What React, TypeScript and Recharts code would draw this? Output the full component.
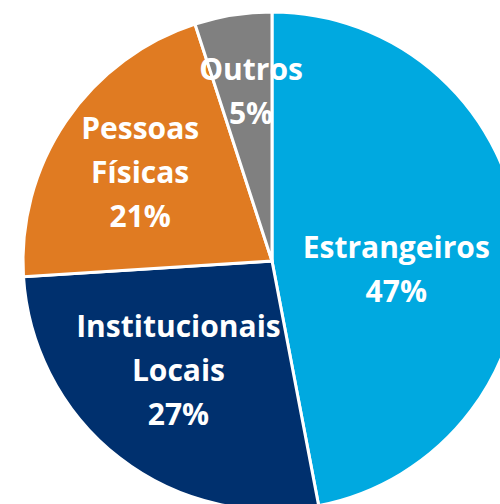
import { PieChart, Pie, Cell } from "recharts"

const categories = ["Estrangeiros", "Institucionais Locais", "Pessoas Físicas", "Outros"]
const shares = [47, 27, 21, 5]
const colors = ["#00A9E0", "#00306E", "#E07B22", "#808080"]

const data = categories.map((name, i) => ({ name, value: shares[i] }))

// label placement per slice: radius as fraction of outer radius, extra clockwise turn in degrees
const labelRadius = [0.5, 0.575, 0.64, 0.69]
const labelTurn = [9, 3, 0, 2]
const RAD = Math.PI / 180
const LINE_H = 44

const renderLabel = (props: any) => {
  const { cx, cy, midAngle, outerRadius, index, name, value } = props
  const r = outerRadius * labelRadius[index]
  const a = (midAngle - labelTurn[index]) * RAD
  const x = cx + r * Math.cos(a)
  const y = cy - r * Math.sin(a)
  const lines = [...String(name).split(" "), `${value}%`]
  const n = lines.length
  return (
    <text
      x={x}
      y={y}
      fill="#ffffff"
      textAnchor="middle"
      fontFamily="Open Sans, sans-serif"
      fontWeight="bold"
      fontSize={30}
    >
      {lines.map((t, i) => (
        <tspan key={i} x={x} y={y + (i - (n - 1) / 2) * LINE_H} dominantBaseline="central">
          {t}
        </tspan>
      ))}
    </text>
  )
}

export default function App() {
  return (
    <div style={{ position: "absolute", left: 0, top: 0, width: 500, height: 504, background: "#fff", overflow: "hidden" }}>
      <PieChart width={500} height={504} margin={{ top: 0, right: 0, bottom: 0, left: 0 }}>
        <Pie
          data={data}
          dataKey="value"
          nameKey="name"
          cx={272}
          cy={261}
          outerRadius={249}
          startAngle={90}
          endAngle={-270}
          stroke="#ffffff"
          strokeWidth={3}
          label={renderLabel}
          labelLine={false}
          isAnimationActive={false}
        >
          {data.map((entry, index) => (
            <Cell key={`cell-${index}`} fill={colors[index]} />
          ))}
        </Pie>
      </PieChart>
    </div>
  )
}
